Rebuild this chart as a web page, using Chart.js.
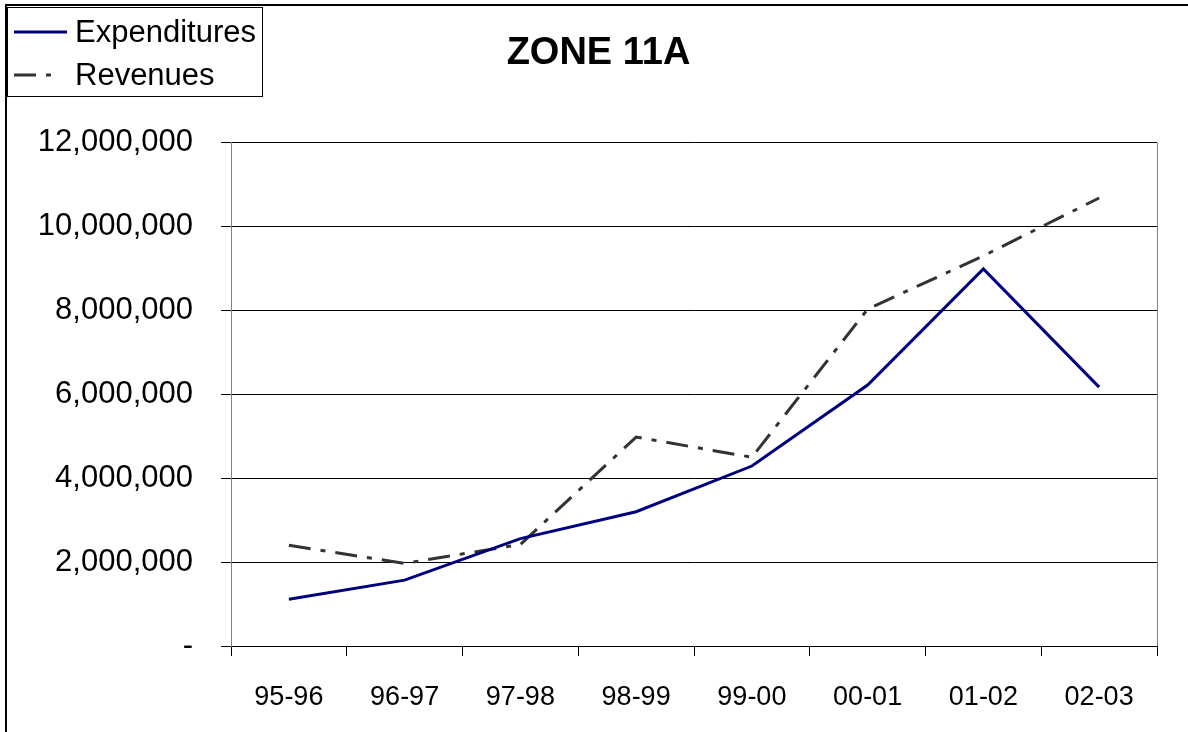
<!DOCTYPE html>
<html>
<head>
<meta charset="utf-8">
<title>ZONE 11A</title>
<script src="https://cdn.jsdelivr.net/npm/chart.js@4/dist/chart.umd.min.js"></script>
<style>
  html, body { margin: 0; padding: 0; background: #ffffff; }
  #wrap { width: 1188px; height: 732px; position: relative; }
  canvas { display: block; }
</style>
</head>
<body>
<div id="wrap"><canvas id="chart" width="1188" height="732"></canvas></div>
<script>
// Fiscal years
const categories = ['95-96', '96-97', '97-98', '98-99', '99-00', '00-01', '01-02', '02-03'];

// Dollar amounts per fiscal year
const expenditures = [1115000, 1570000, 2560000, 3200000, 4290000, 6220000, 8990000, 6170000];
const revenues = [2400000, 1970000, 2420000, 4980000, 4500000, 8030000, 9300000, 10680000];

// Value axis labels, bottom to top
const yTickValues = [0, 2000000, 4000000, 6000000, 8000000, 10000000, 12000000];
const yTickLabels = ['-', '2,000,000', '4,000,000', '6,000,000', '8,000,000', '10,000,000', '12,000,000'];

const FONT = '"Liberation Sans", Arial, Helvetica, sans-serif';

// Frame lines, plot-area edge and the boxed legend in the top-left corner
const decorations = {
  id: 'decorations',
  beforeDraw(chart) {
    const ctx = chart.ctx;
    ctx.save();
    ctx.fillStyle = '#ffffff';
    ctx.fillRect(0, 0, chart.width, chart.height);
    ctx.restore();
  },
  afterDraw(chart) {
    const ctx = chart.ctx;
    const area = chart.chartArea;
    ctx.save();
    // outer frame (top and left edges)
    ctx.strokeStyle = '#000000';
    ctx.lineWidth = 2;
    ctx.beginPath();
    ctx.moveTo(6, chart.height);
    ctx.lineTo(6, 5);
    ctx.lineTo(chart.width, 5);
    ctx.stroke();

    // right edge of plot area
    ctx.strokeStyle = '#808080';
    ctx.lineWidth = 1;
    ctx.beginPath();
    ctx.moveTo(Math.round(area.right) + 0.5, area.top);
    ctx.lineTo(Math.round(area.right) + 0.5, area.bottom);
    ctx.stroke();

    // legend box
    const bx = 7.5, by = 7.5, bw = 255, bh = 89;
    ctx.fillStyle = '#ffffff';
    ctx.fillRect(bx, by, bw, bh);
    ctx.strokeStyle = '#000000';
    ctx.lineWidth = 1;
    ctx.strokeRect(bx, by, bw, bh);

    const rows = [32, 75];
    chart.data.datasets.forEach((ds, i) => {
      const y = rows[i];
      ctx.strokeStyle = ds.borderColor;
      ctx.lineWidth = ds.borderWidth;
      ctx.setLineDash(ds.borderDash || []);
      ctx.beginPath();
      ctx.moveTo(14, y);
      ctx.lineTo(ds.borderDash ? 53 : 67, y);
      ctx.stroke();
      ctx.setLineDash([]);
      ctx.fillStyle = '#000000';
      ctx.font = '31px ' + FONT;
      ctx.textAlign = 'left';
      ctx.textBaseline = 'middle';
      ctx.fillText(ds.label, 75, y + 1);
    });
    ctx.restore();
  }
};

new Chart(document.getElementById('chart'), {
  type: 'line',
  data: {
    labels: categories,
    datasets: [
      {
        label: 'Expenditures',
        data: expenditures,
        borderColor: '#000080',
        backgroundColor: '#000080',
        borderWidth: 3,
        pointRadius: 0,
        tension: 0,
        fill: false
      },
      {
        label: 'Revenues',
        data: revenues,
        borderColor: '#333333',
        backgroundColor: '#333333',
        borderWidth: 3,
        borderDash: [22, 10, 5, 10],
        pointRadius: 0,
        tension: 0,
        fill: false
      }
    ]
  },
  options: {
    responsive: false,
    animation: false,
    devicePixelRatio: 1,
    layout: { padding: { left: 40, right: 31, top: 0, bottom: 0 } },
    plugins: {
      legend: { display: false },
      tooltip: { enabled: false },
      title: {
        display: true,
        text: 'ZONE 11A',
        color: '#000000',
        font: { family: FONT, size: 38, weight: 'bold', lineHeight: 1.2 },
        padding: { top: 31, bottom: 66 }
      }
    },
    scales: {
      x: {
        type: 'category',
        offset: true,
        grid: {
          offset: true,
          drawOnChartArea: false,
          drawTicks: true,
          tickLength: 10,
          color: '#000000'
        },
        border: { display: true, color: '#000000', width: 1 },
        ticks: {
          color: '#000000',
          font: { family: FONT, size: 27 },
          padding: 25,
          maxRotation: 0,
          autoSkip: false
        },
        afterFit(scale) {
          scale.height = 86;
        }
      },
      y: {
        min: 0,
        max: 12000000,
        afterBuildTicks(scale) {
          scale.ticks = yTickValues.map(v => ({ value: v }));
        },
        grid: {
          color: '#000000',
          lineWidth: 1,
          drawTicks: true,
          tickLength: 10
        },
        border: { display: true, color: '#808080', width: 1 },
        ticks: {
          color: '#000000',
          font: { family: FONT, size: 31 },
          padding: 28,
          callback(value) {
            const i = yTickValues.indexOf(value);
            return i >= 0 ? yTickLabels[i] : '';
          }
        },
        afterFit(scale) {
          scale.width = 191;
        }
      }
    }
  },
  plugins: [decorations]
});
</script>
</body>
</html>
